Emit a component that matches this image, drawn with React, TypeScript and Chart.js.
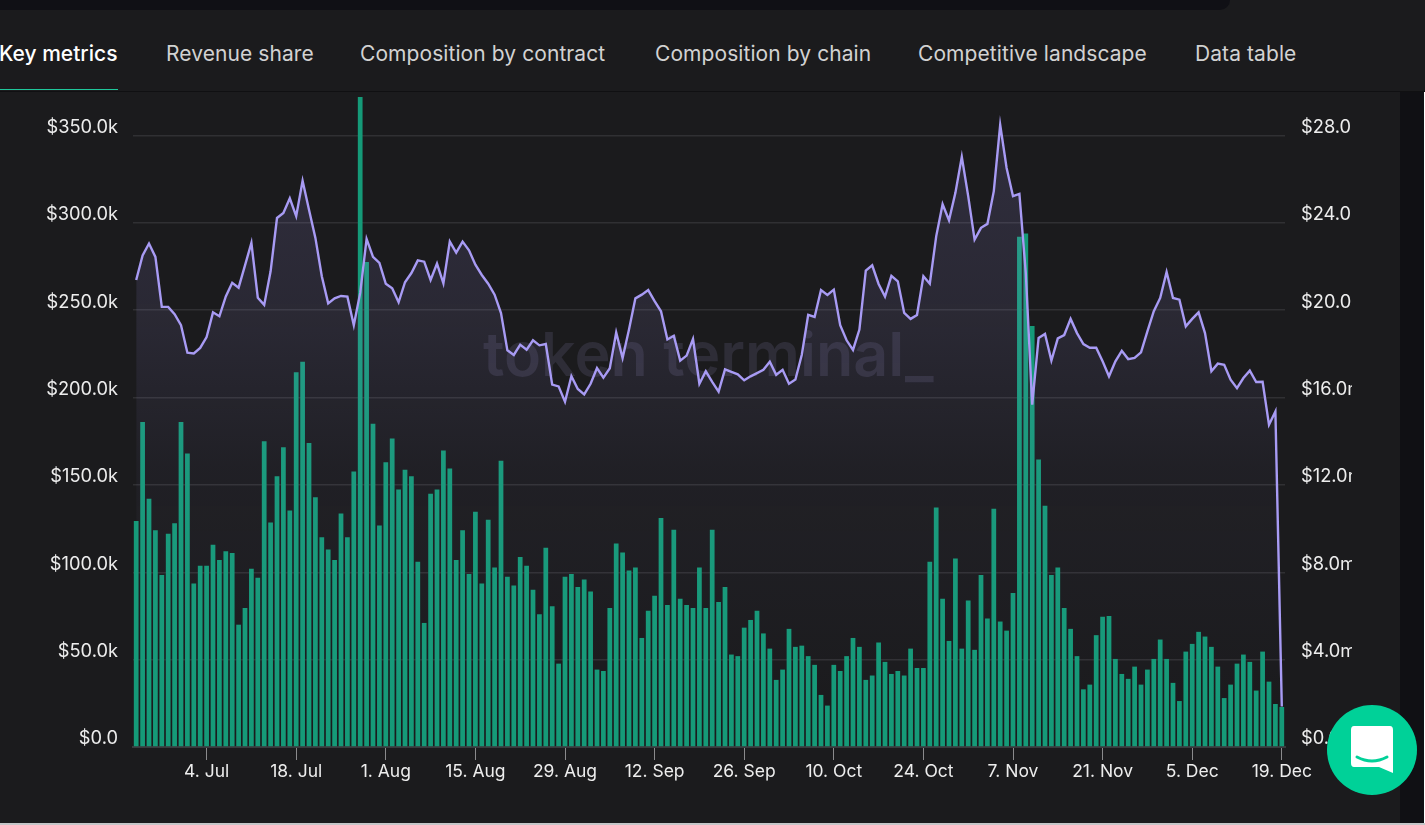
import React, { useEffect, useRef } from "react";
import { Chart, registerables } from "chart.js";

Chart.register(...registerables);

const TAB_NAMES = ["Key metrics", "Revenue share", "Composition by contract", "Composition by chain", "Competitive landscape", "Data table"];
const TICK_LABELS = ["4. Jul", "18. Jul", "1. Aug", "15. Aug", "29. Aug", "12. Sep", "26. Sep", "10. Oct", "24. Oct", "7. Nov", "21. Nov", "5. Dec", "19. Dec"];
const MONTHS = ["Jan", "Feb", "Mar", "Apr", "May", "Jun", "Jul", "Aug", "Sep", "Oct", "Nov", "Dec"];

// Daily revenue, thousand USD (left axis), 23 Jun to 19 Dec
const revenueK = [
  129.4, 186, 142, 124, 98.5, 122, 128, 186, 168, 93.5,
  103.7, 103.7, 115.7, 107, 112, 111, 70, 79.6, 102, 96.8,
  175, 128.5, 155, 171.5, 135.4, 214.4, 220.5, 174, 143, 120,
  113, 107, 133.6, 120, 157.7, 372, 277.6, 185, 126.8, 163,
  176.6, 147.4, 158.6, 155, 106, 71, 145, 147.4, 169.7, 159.4,
  107, 124, 99, 134.6, 93.5, 130, 102.7, 163.8, 97.5, 92.4,
  108.8, 103.7, 90, 76, 114, 80.6, 47.7, 97.5, 99, 91.6,
  95.8, 89, 44.3, 43.5, 79.6, 116.4, 111.3, 101, 102.7, 62.4,
  78, 86.5, 131, 81.3, 124.3, 84.8, 81.3, 79.6, 102.7, 79.6,
  124.3, 83, 91.6, 52.9, 52, 68.3, 72.7, 78, 65, 56.3,
  38.4, 44.3, 67.6, 57.3, 58, 52, 47, 29.8, 23.7, 47,
  43.5, 52, 62.4, 57.3, 38.4, 40.9, 59.8, 48.7, 41.8, 43.5,
  40.9, 56.3, 45.2, 45.2, 106, 137, 84.8, 60.7, 107.9, 56.3,
  83.8, 55.6, 98.5, 73.5, 136.3, 71.8, 66.6, 88.2, 292, 293.8,
  241, 164.6, 138, 98.5, 102.7, 79.6, 67.6, 52, 33, 35.7,
  64, 74.5, 75, 50.4, 41.8, 39, 46, 35.7, 44.3, 50.4,
  61.5, 50.4, 36.7, 26.3, 54.6, 59, 65.9, 63.2, 57.3, 46,
  28, 35.7, 47.7, 52.9, 48.7, 32.3, 54.6, 37.4, 24.6, 22.9,
];

// Second metric, million USD (right axis)
const metricM = [
  21.38, 22.5, 23.05, 22.44, 20.15, 20.15, 19.82, 19.31, 18.05, 18.02,
  18.27, 18.77, 19.9, 19.72, 20.63, 21.25, 21.03, 22.05, 23.08, 20.57,
  20.24, 21.78, 24.22, 24.45, 25.12, 24.3, 25.92, 24.6, 23.31, 21.55,
  20.31, 20.54, 20.65, 20.62, 19.31, 20.79, 23.26, 22.44, 22.16, 21.21,
  21, 20.36, 21.28, 21.7, 22.28, 22.22, 21.38, 22.13, 21.23, 23.14,
  22.63, 23.14, 22.74, 22.08, 21.61, 21.21, 20.71, 19.87, 18.16, 17.95,
  18.42, 18.19, 18.62, 18.39, 18.45, 16.59, 16.51, 15.81, 16.98, 16.39,
  16.14, 16.63, 17.35, 16.91, 17.34, 18.98, 17.81, 19.11, 20.54, 20.71,
  20.92, 20.41, 19.95, 18.66, 18.83, 17.69, 17.92, 18.68, 16.63, 17.2,
  16.72, 16.27, 17.29, 17.17, 17.06, 16.79, 16.97, 17.12, 17.27, 17.64,
  17.04, 17.27, 16.63, 16.82, 17.96, 19.79, 19.69, 20.92, 20.7, 20.94,
  19.31, 18.62, 18.18, 19.11, 21.81, 22.05, 21.2, 20.62, 21.57, 21.32,
  19.87, 19.6, 19.78, 21.55, 21.21, 23.38, 24.85, 24.12, 25.37, 27.02,
  25.22, 23.23, 23.77, 23.95, 25.45, 28.48, 26.51, 25.22, 25.32, 21.7,
  15.67, 18.73, 18.91, 17.69, 18.71, 18.86, 19.6, 18.95, 18.45, 18.28,
  18.28, 17.66, 16.97, 17.66, 18.14, 17.76, 17.81, 18.07, 19.03, 19.95,
  20.56, 21.75, 20.56, 20.48, 19.26, 19.6, 19.9, 18.95, 17.2, 17.55,
  17.5, 16.82, 16.43, 16.89, 17.23, 16.71, 16.72, 14.75, 15.36, 1.85,
];

const categories = revenueK.map((_, i) => {
  const d = new Date(Date.UTC(2022, 5, 23 + i));
  return `${d.getUTCDate()}. ${MONTHS[d.getUTCMonth()]}`;
});

const FONT = "Inter, 'Noto Sans', sans-serif";
const TAB_X = [-1, 166, 360, 655, 918, 1195];

export default function App() {
  const ref = useRef<HTMLCanvasElement | null>(null);

  useEffect(() => {
    document.body.style.margin = "0";
    document.body.style.background = "#1b1b1d";
    const canvas = ref.current;
    if (!canvas) return;
    const chart = new Chart(canvas, {
      type: "bar",
      data: {
        labels: categories,
        datasets: [
          {
            type: "line",
            data: metricM,
            yAxisID: "yR",
            order: 0,
            borderColor: "#a89bf4",
            borderWidth: 2.4,
            pointRadius: 0,
            tension: 0,
            fill: "origin",
            backgroundColor: (ctx: any) => {
              const { chart: c } = ctx;
              if (!c.chartArea) return "rgba(168,155,244,0.1)";
              const g = c.ctx.createLinearGradient(0, c.chartArea.top + 30, 0, c.chartArea.bottom);
              g.addColorStop(0, "rgba(168,155,244,0.15)");
              g.addColorStop(0.3, "rgba(168,155,244,0.11)");
              g.addColorStop(0.55, "rgba(168,155,244,0.045)");
              g.addColorStop(1, "rgba(168,155,244,0)");
              return g;
            },
          },
          {
            type: "bar",
            data: revenueK,
            yAxisID: "yL",
            order: 1,
            backgroundColor: "#159a78",
            categoryPercentage: 1,
            barPercentage: 0.74,
          },
        ],
      } as any,
      options: {
        animation: false,
        responsive: false,
        layout: { padding: { top: 0, left: 0, right: 0, bottom: 0 } },
        plugins: { legend: { display: false }, tooltip: { enabled: false } },
        scales: {
          x: {
            offset: true,
            border: { color: "#3a3a3e", width: 2 },
            grid: { display: true, offset: false, drawOnChartArea: false, drawTicks: true, tickLength: 13, tickColor: "#8a8a8c", tickWidth: 1 },
            ticks: {
              autoSkip: false,
              maxRotation: 0,
              color: "#ededed",
              padding: 1,
              font: { family: FONT, size: 17.5 },
              callback: (v: any) => categories[v],
            },
            afterBuildTicks: (s: any) => {
              s.ticks = s.ticks.filter((t: any) => TICK_LABELS.includes(categories[t.value]));
            },
            afterFit: (s: any) => {
              s.height = 76;
            },
          },
          yL: {
            position: "left",
            min: 0,
            max: 372,
            border: { display: false },
            grid: { color: "#303033", lineWidth: 1.5, drawTicks: false },
            ticks: {
              stepSize: 50,
              includeBounds: false,
              padding: 15,
              labelOffset: -8,
              color: "#ededed",
              font: { family: FONT, size: 18.3 },
              callback: (v: any) => (Number(v) === 0 ? "$0.0" : `$${Number(v).toFixed(1)}k`),
            },
            afterFit: (s: any) => {
              s.width = 133;
            },
          },
          yR: {
            position: "right",
            min: 0,
            max: 29.76,
            border: { display: false },
            grid: { display: false, drawTicks: false },
            ticks: {
              stepSize: 4,
              includeBounds: false,
              padding: 16,
              labelOffset: -8,
              color: "#ededed",
              font: { family: FONT, size: 18.3 },
              callback: (v: any) => (Number(v) === 0 ? "$0.0" : `$${Number(v).toFixed(1)}m`),
            },
            afterFit: (s: any) => {
              s.width = 67;
            },
          },
        },
      },
    } as any);
    return () => chart.destroy();
  }, []);

  return (
    <div style={{ position: "fixed", left: 0, top: 0, width: 1425, height: 825, overflow: "hidden", background: "#1b1b1d", fontFamily: FONT }}>
      <div style={{ position: "absolute", left: 0, top: 0, width: 1230, height: 10, background: "#101015", borderBottomRightRadius: 20 }} />
      {TAB_NAMES.map((t, i) => (
        <div
          key={t}
          style={{
            position: "absolute",
            left: TAB_X[i],
            top: 42,
            fontSize: 21,
            lineHeight: "24px",
            letterSpacing: i === 0 ? 0 : 0.08,
            whiteSpace: "nowrap",
            fontWeight: i === 0 ? 500 : 400,
            color: i === 0 ? "#ffffff" : "#d2d2d2",
          }}
        >
          {t}
        </div>
      ))}
      <div style={{ position: "absolute", left: 0, top: 89, width: 118, height: 1, background: "#1fc79b" }} />
      <div style={{ position: "absolute", left: 0, top: 91, width: 1425, height: 1, background: "#101012" }} />
      <div style={{ position: "absolute", left: 1400, top: 92, width: 25, height: 733, background: "#101014" }} />
      <div style={{ position: "absolute", left: 1424, top: 92, width: 1, height: 733, background: "#ffffff" }} />
      <div style={{ position: "absolute", left: 0, top: 823, width: 1425, height: 2, background: "#c4c6c8" }} />
      <div
        style={{
          position: "absolute",
          left: 483,
          top: 316,
          fontSize: 61,
          lineHeight: "76px",
          fontWeight: 600,
          whiteSpace: "nowrap",
          color: "#2e2d37",
        }}
      >
        token terminal_
      </div>
      <canvas ref={ref} width={1352} height={753} style={{ position: "absolute", left: 0, top: 70, width: 1352, height: 753 }} />
      <svg width="90" height="90" viewBox="0 0 90 90" style={{ position: "absolute", left: 1327, top: 705 }}>
        <circle cx="45" cy="45" r="45" fill="#00d198" />
        <path d="M27 21 H63 Q66 21 66 25 V68 L52 62 H27 Q24 62 24 58 V25 Q24 21 27 21 Z" fill="#ffffff" />
        <path d="M30 52 Q45 60 60 52" fill="none" stroke="#00d198" strokeWidth="3" strokeLinecap="round" />
      </svg>
    </div>
  );
}
